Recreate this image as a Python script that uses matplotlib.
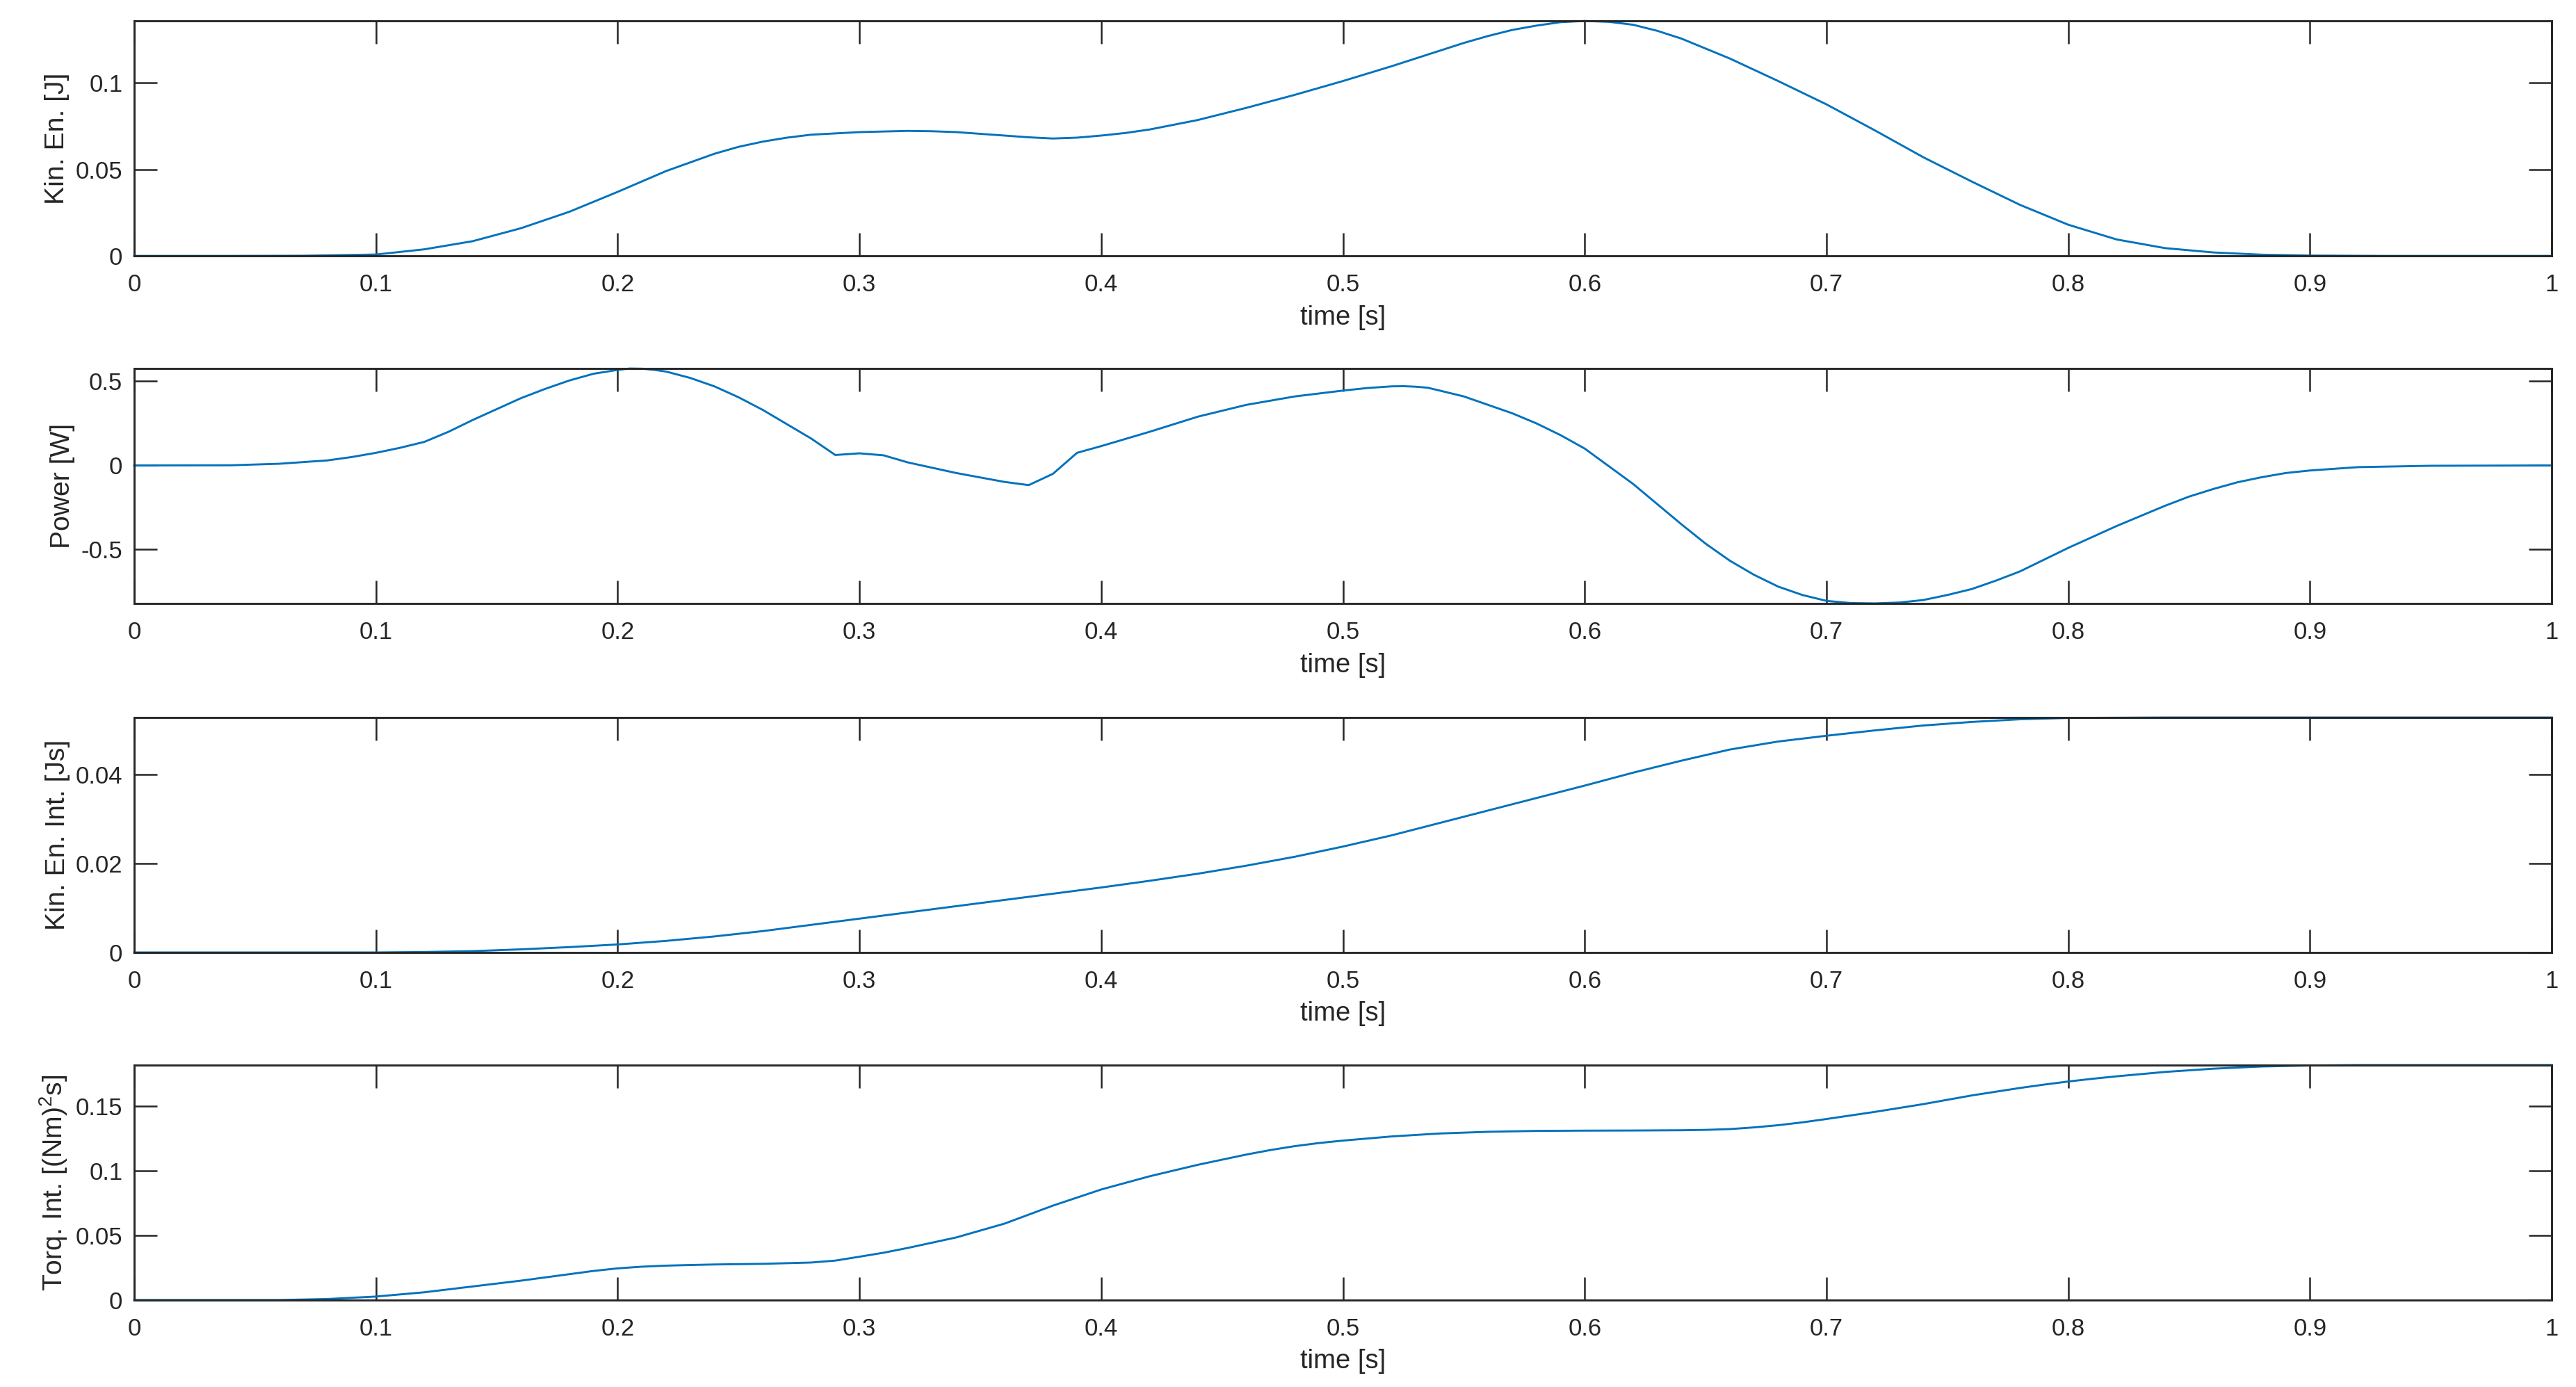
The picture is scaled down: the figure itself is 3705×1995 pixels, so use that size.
import numpy as np
import matplotlib
matplotlib.use("Agg")
import matplotlib.pyplot as plt
from matplotlib.ticker import FormatStrFormatter

#%% Data
# Kinetic energy [J]
t_kin = [0.0, 0.04, 0.07, 0.10, 0.12, 0.14, 0.16, 0.18, 0.20, 0.22, 0.24, 0.25, 0.26,
         0.27, 0.28, 0.30, 0.32, 0.33, 0.34, 0.36, 0.37, 0.38, 0.39, 0.40, 0.41, 0.42,
         0.44, 0.46, 0.48, 0.50, 0.52, 0.54, 0.55, 0.56, 0.57, 0.58, 0.59, 0.60, 0.61,
         0.62, 0.63, 0.64, 0.66, 0.68, 0.70, 0.72, 0.74, 0.76, 0.78, 0.80, 0.82, 0.84,
         0.86, 0.88, 0.90, 0.93, 1.0]
kin_en = [0.0, 0.0, 0.0001, 0.0008, 0.0038, 0.0085, 0.0160, 0.0255, 0.0370, 0.0490,
          0.0590, 0.0630, 0.0660, 0.0683, 0.0700, 0.0715, 0.0722, 0.0720, 0.0715, 0.0695,
          0.0685, 0.0678, 0.0683, 0.0695, 0.0710, 0.0730, 0.0785, 0.0855, 0.0930, 0.1010,
          0.1095, 0.1185, 0.1230, 0.1270, 0.1305, 0.1330, 0.1350, 0.1357, 0.1352, 0.1335,
          0.1300, 0.1255, 0.1140, 0.1010, 0.0875, 0.0725, 0.0570, 0.0430, 0.0295, 0.0180,
          0.0095, 0.0045, 0.0020, 0.0007, 0.0002, 0.0, 0.0]

# Power [W]
t_pow = [0.0, 0.04, 0.06, 0.08, 0.09, 0.10, 0.11, 0.12, 0.13, 0.14, 0.15, 0.16, 0.17,
         0.18, 0.19, 0.20, 0.205, 0.21, 0.215, 0.22, 0.23, 0.24, 0.25, 0.26, 0.27, 0.28,
         0.29, 0.30, 0.31, 0.32, 0.34, 0.36, 0.37, 0.38, 0.39, 0.40, 0.42, 0.44, 0.46,
         0.48, 0.50, 0.51, 0.52, 0.525, 0.53, 0.535, 0.54, 0.55, 0.56, 0.57, 0.58, 0.59,
         0.60, 0.61, 0.62, 0.63, 0.64, 0.65, 0.66, 0.67, 0.68, 0.69, 0.70, 0.71, 0.72,
         0.73, 0.74, 0.75, 0.76, 0.77, 0.78, 0.80, 0.81, 0.82, 0.83, 0.84, 0.85, 0.86,
         0.87, 0.88, 0.89, 0.90, 0.92, 0.95, 1.0]
power = [0.0, 0.001, 0.01, 0.03, 0.05, 0.075, 0.105, 0.14, 0.20, 0.27, 0.335, 0.40,
         0.455, 0.505, 0.545, 0.568, 0.576, 0.575, 0.568, 0.558, 0.52, 0.47, 0.405, 0.33,
         0.245, 0.16, 0.062, 0.072, 0.060, 0.018, -0.045, -0.098, -0.117, -0.05, 0.075,
         0.115, 0.20, 0.29, 0.36, 0.41, 0.445, 0.46, 0.47, 0.471, 0.468, 0.462, 0.445,
         0.41, 0.36, 0.31, 0.25, 0.18, 0.10, -0.005, -0.11, -0.23, -0.35, -0.465, -0.566,
         -0.65, -0.72, -0.77, -0.805, -0.818, -0.82, -0.815, -0.80, -0.77, -0.735, -0.685,
         -0.63, -0.49, -0.425, -0.36, -0.30, -0.24, -0.185, -0.14, -0.10, -0.07, -0.045,
         -0.03, -0.01, -0.002, 0.0]

# Kinetic energy integral [Js]
t_kin_int = [0.0, 0.10, 0.12, 0.14, 0.16, 0.18, 0.20, 0.22, 0.24, 0.26, 0.28, 0.30, 0.32,
             0.34, 0.36, 0.38, 0.40, 0.42, 0.44, 0.46, 0.48, 0.50, 0.52, 0.54, 0.56, 0.58,
             0.60, 0.62, 0.64, 0.66, 0.68, 0.70, 0.72, 0.74, 0.76, 0.78, 0.80, 0.84, 1.0]
kin_int = [0.0, 0.0, 0.0001, 0.0003, 0.0007, 0.0012, 0.0018, 0.0026, 0.0036, 0.0048,
           0.0062, 0.0076, 0.0090, 0.0104, 0.0118, 0.0132, 0.0146, 0.0161, 0.0177, 0.0195,
           0.0215, 0.0238, 0.0263, 0.0291, 0.0319, 0.0347, 0.0375, 0.0404, 0.0431, 0.0456,
           0.0474, 0.0487, 0.0499, 0.0510, 0.0518, 0.0524, 0.0527, 0.0528, 0.0528]

# Torque integral [(Nm)^2 s]
t_torq = [0.0, 0.06, 0.08, 0.10, 0.12, 0.14, 0.16, 0.18, 0.19, 0.20, 0.21, 0.22, 0.23,
          0.24, 0.26, 0.28, 0.29, 0.30, 0.31, 0.32, 0.34, 0.36, 0.38, 0.40, 0.42, 0.44,
          0.46, 0.47, 0.48, 0.49, 0.50, 0.52, 0.54, 0.56, 0.58, 0.60, 0.62, 0.64, 0.65,
          0.66, 0.67, 0.68, 0.69, 0.70, 0.72, 0.74, 0.76, 0.78, 0.79, 0.80, 0.81, 0.82,
          0.84, 0.86, 0.88, 0.90, 0.92, 1.0]
torq_int = [0.0, 0.0, 0.0008, 0.0027, 0.0060, 0.0105, 0.0150, 0.0200, 0.0225, 0.0245,
            0.0258, 0.0266, 0.0271, 0.0275, 0.0280, 0.0290, 0.0305, 0.0335, 0.0366, 0.0403,
            0.0484, 0.0591, 0.0730, 0.0855, 0.0957, 0.1046, 0.1125, 0.1160, 0.1190, 0.1214,
            0.1233, 0.1265, 0.1288, 0.1301, 0.1308, 0.1310, 0.1311, 0.1313, 0.1316, 0.1322,
            0.1335, 0.1352, 0.1374, 0.1400, 0.1455, 0.1515, 0.1582, 0.1640, 0.1666, 0.1690,
            0.1711, 0.1730, 0.1764, 0.1789, 0.1806, 0.1814, 0.1817, 0.1817]

x_ticks = [0, 0.1, 0.2, 0.3, 0.4, 0.5, 0.6, 0.7, 0.8, 0.9, 1.0]
x_tick_labels = ["0", "0.1", "0.2", "0.3", "0.4", "0.5", "0.6", "0.7", "0.8", "0.9", "1"]

#%% Figure setup (MATLAB-like look)
plt.rcParams["font.family"] = ["Liberation Sans", "DejaVu Sans"]
plt.rcParams["mathtext.default"] = "regular"
ax_color = "#262626"
line_color = "#0072BD"

fig = plt.figure(figsize=(12.35, 6.65), dpi=300)

left, width, height = 0.0521, 0.9385, 0.1694
bottoms = [0.8155, 0.5649, 0.3133, 0.0627]

panels = [
    (t_kin, kin_en, "Kin. En. [J]", (0, 0.1357), [0, 0.05, 0.1]),
    (t_pow, power, "Power [W]", (-0.8205, 0.576), [-0.5, 0, 0.5]),
    (t_kin_int, kin_int, "Kin. En. Int. [Js]", (0, 0.0528), [0, 0.02, 0.04]),
    (t_torq, torq_int, "Torq. Int. [(Nm)$^2$s]", (0, 0.1817), [0, 0.05, 0.1, 0.15]),
]

for (t, y, ylab, ylim, yticks), b in zip(panels, bottoms):
    ax = fig.add_axes([left, b, width, height])
    ax.plot(t, y, color=line_color, lw=0.7, clip_on=False)
    ax.set_xlim(0, 1)
    ax.set_ylim(*ylim)
    ax.set_xticks(x_ticks)
    ax.set_xticklabels(x_tick_labels)
    ax.set_yticks(yticks)
    ax.yaxis.set_major_formatter(FormatStrFormatter("%g"))
    ax.tick_params(direction="in", length=7.9, width=0.6, colors=ax_color,
                   labelsize=8.3, top=True, right=True, pad=4)
    ax.tick_params(axis="x", pad=6)
    for sp in ax.spines.values():
        sp.set_color(ax_color)
        sp.set_linewidth(0.7)
    ax.set_xlabel("time [s]", fontsize=9.2, color=ax_color, labelpad=3)
    ax.set_ylabel(ylab, fontsize=9.4, color=ax_color, labelpad=2)

fig.savefig("out.png", dpi=300)
